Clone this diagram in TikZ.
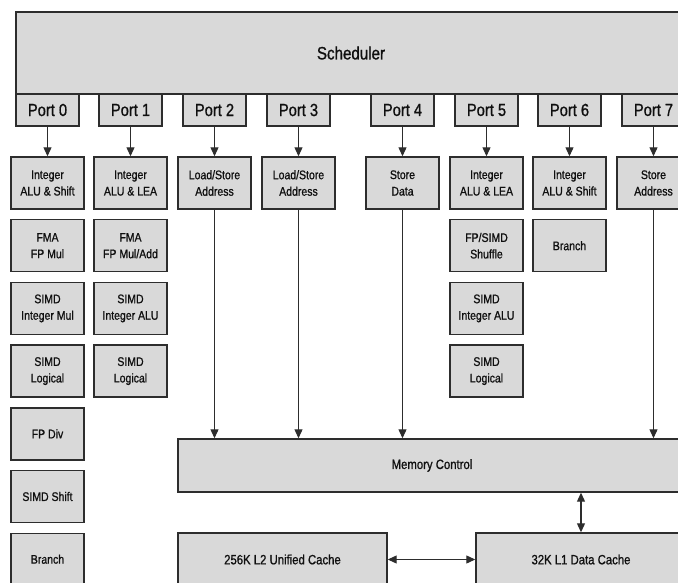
\documentclass[tikz,border=0pt]{standalone}
\usepackage{fontspec}
\setmainfont{Liberation Sans}[FakeStretch=0.84,FakeBold=0.9]
\usetikzlibrary{arrows.meta}
\definecolor{boxfill}{RGB}{217,217,217}
\definecolor{boxline}{RGB}{45,45,45}
\definecolor{txt}{RGB}{15,15,15}
\begin{document}
\begin{tikzpicture}[x=1pt,y=-1pt,
  box/.style={draw=boxline, fill=boxfill, line width=1.4pt, inner sep=0pt, align=center, text=txt},
  port/.style={box, minimum width=63pt, minimum height=32pt, font=\fontsize{17.5}{19}\selectfont},
  unit/.style={box, minimum width=73pt, minimum height=52pt, font=\fontsize{12.5}{16.5}\selectfont},
  big/.style={box, font=\fontsize{13.5}{16}\selectfont},
  conn/.style={draw=boxline, line width=1.1pt, -{Triangle[length=9pt,width=8pt]}},
  bconn/.style={draw=boxline, line width=1.1pt, {Triangle[length=9pt,width=8pt]}-{Triangle[length=9pt,width=8pt]}}]
\useasboundingbox (0,0) rectangle (678,583);
\clip (0,0) rectangle (678,583);
% Scheduler
\node[box, minimum width=670pt, minimum height=82pt, font=\fontsize{18}{20}\selectfont] (sched) at (351,53) {Scheduler};
% Ports
\node[port] (p0) at (47.5,110) {Port 0};
\node[port] (p1) at (130.5,110) {Port 1};
\node[port] (p2) at (214.5,110) {Port 2};
\node[port] (p3) at (298.5,110) {Port 3};
\node[port] (p4) at (402.5,110) {Port 4};
\node[port] (p5) at (486.5,110) {Port 5};
\node[port] (p6) at (569.5,110) {Port 6};
\node[port] (p7) at (653.5,110) {Port 7};
% Units column 0
\node[unit] (u00) at (47.5,183) {Integer\\ALU \& Shift};
\node[unit] (u01) at (47.5,245.7) {FMA\\FP Mul};
\node[unit] (u02) at (47.5,308.4) {SIMD\\Integer Mul};
\node[unit] (u03) at (47.5,371.1) {SIMD\\Logical};
\node[unit] (u04) at (47.5,433.8) {FP Div};
\node[unit] (u05) at (47.5,496.5) {SIMD Shift};
\node[unit] (u06) at (47.5,559.2) {Branch};
% column 1
\node[unit] (u10) at (130.5,183) {Integer\\ALU \& LEA};
\node[unit] (u11) at (130.5,245.7) {FMA\\FP Mul/Add};
\node[unit] (u12) at (130.5,308.4) {SIMD\\Integer ALU};
\node[unit] (u13) at (130.5,371.1) {SIMD\\Logical};
% columns 2-4
\node[unit] (u20) at (214.5,183) {Load/Store\\Address};
\node[unit] (u30) at (298.5,183) {Load/Store\\Address};
\node[unit] (u40) at (402.5,183) {Store\\Data};
% column 5
\node[unit] (u50) at (486.5,183) {Integer\\ALU \& LEA};
\node[unit] (u51) at (486.5,245.7) {FP/SIMD\\Shuffle};
\node[unit] (u52) at (486.5,308.4) {SIMD\\Integer ALU};
\node[unit] (u53) at (486.5,371.1) {SIMD\\Logical};
% column 6
\node[unit] (u60) at (569.5,183) {Integer\\ALU \& Shift};
\node[unit] (u61) at (569.5,245.7) {Branch};
% column 7
\node[unit] (u70) at (653.5,183) {Store\\Address};
% Memory
\node[big, minimum width=508pt, minimum height=53pt] (mem) at (432,465.5) {Memory Control};
\node[big, minimum width=209pt, minimum height=53pt] (l2) at (282.5,559.5) {256K L2 Unified Cache};
\node[big, minimum width=210pt, minimum height=53pt] (l1) at (581,559.5) {32K L1 Data Cache};
% Connectors
\draw[conn] (p0.south) -- (u00.north);
\draw[conn] (p1.south) -- (u10.north);
\draw[conn] (p2.south) -- (u20.north);
\draw[conn] (p3.south) -- (u30.north);
\draw[conn] (p4.south) -- (u40.north);
\draw[conn] (p5.south) -- (u50.north);
\draw[conn] (p6.south) -- (u60.north);
\draw[conn] (p7.south) -- (u70.north);
\draw[conn] (u20.south) -- (u20.south |- mem.north);
\draw[conn] (u30.south) -- (u30.south |- mem.north);
\draw[conn] (u40.south) -- (u40.south |- mem.north);
\draw[conn] (u70.south) -- (u70.south |- mem.north);
\draw[bconn] (l1.north |- mem.south) -- (l1.north);
\draw[bconn] (l2.east) -- (l1.west);
\end{tikzpicture}
\end{document}
